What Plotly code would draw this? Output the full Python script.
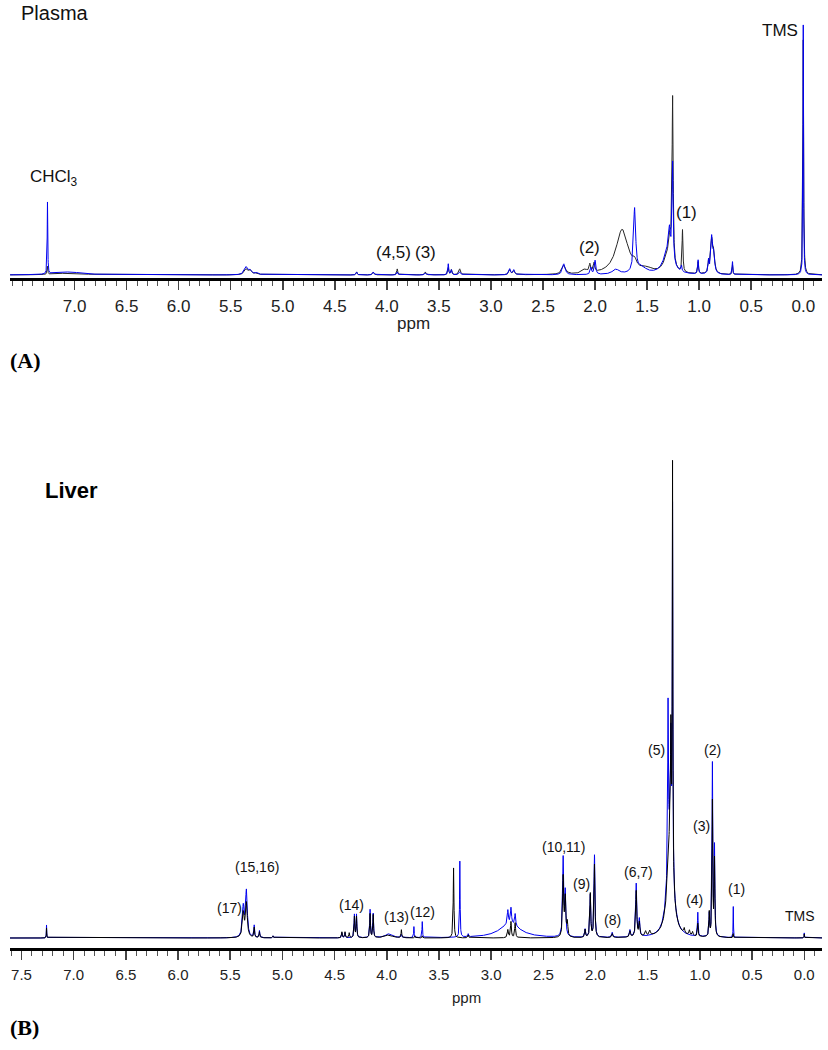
import numpy as np
import plotly.graph_objects as go

W, H = 828, 1050

# ---------------- DATA ----------------
# Peak tables: position (ppm), height (arbitrary intensity), half width (ppm)
plasma_black_ppm = [7.26, 7.05, 5.35, 5.31, 5.25, 4.29, 4.13, 3.90, 3.63, 3.41, 3.38, 3.30,
                    2.82, 2.78, 2.30, 2.10, 2.05, 2.01, 1.74, 1.62, 1.50, 1.30, 1.28, 1.255,
                    1.16, 1.01, 0.91, 0.88, 0.86, 0.68, 0.00]
plasma_black_int = [8, 2, 6, 4, 2, 3, 3, 6, 3, 7, 5, 6,
                    5, 4, 9, 4, 8, 9, 45, 6, 4, 18, 22, 165,
                    42, 12, 10, 33, 18, 10, 235]
plasma_black_wid = [0.004, 0.15, 0.02, 0.015, 0.02, 0.006, 0.008, 0.006, 0.008, 0.006, 0.006, 0.01,
                    0.01, 0.01, 0.02, 0.03, 0.008, 0.008, 0.07, 0.02, 0.06, 0.045, 0.012, 0.006,
                    0.005, 0.005, 0.005, 0.012, 0.01, 0.004, 0.004]

plasma_blue_ppm = [7.26, 7.05, 5.35, 5.31, 5.25, 4.29, 4.13, 3.90, 3.63, 3.41, 3.38, 3.30,
                   2.82, 2.78, 2.30, 2.04, 2.00, 1.80, 1.62, 1.55, 1.30, 1.285, 1.255,
                   1.17, 1.01, 0.91, 0.88, 0.86, 0.68, 0.00]
plasma_blue_int = [72, 3, 8, 4, 2, 3, 3, 3, 2, 11, 5, 3,
                   6, 5, 11, 7, 14, 5, 64, 6, 24, 24, 98,
                   6, 14, 12, 36, 18, 13, 250]
plasma_blue_wid = [0.003, 0.15, 0.02, 0.015, 0.02, 0.006, 0.008, 0.006, 0.008, 0.005, 0.006, 0.01,
                   0.01, 0.01, 0.015, 0.008, 0.008, 0.04, 0.012, 0.06, 0.05, 0.01, 0.006,
                   0.005, 0.005, 0.005, 0.01, 0.01, 0.004, 0.003]

liver_black_ppm = [7.26, 5.375, 5.345, 5.27, 5.22, 5.09, 4.43, 4.40, 4.36, 4.31, 4.29,
                   4.16, 4.13, 3.98, 3.86, 3.73, 3.66, 3.36, 3.22, 2.84, 2.81, 2.77,
                   2.31, 2.29, 2.27, 2.10, 2.05, 2.01, 1.84, 1.67, 1.61, 1.58, 1.52, 1.48,
                   1.285, 1.278, 1.262, 1.15, 1.10, 1.07, 1.02, 0.91, 0.88, 0.86, 0.68, 0.00]
liver_black_int = [10, 24, 34, 10, 6, 2, 6, 6, 5, 21, 21,
                   24, 23, 3, 8, 2, 2, 70, 3, 8, 16, 15,
                   60, 38, 14, 8, 44, 73, 4, 6, 46, 14, 5, 5,
                   105, 110, 405, 5, 5, 4, 13, 24, 135, 76, 4, 4]
liver_black_wid = [0.002, 0.01, 0.01, 0.004, 0.004, 0.004, 0.004, 0.004, 0.004, 0.004, 0.004,
                   0.004, 0.004, 0.04, 0.004, 0.003, 0.003, 0.004, 0.005, 0.006, 0.005, 0.005,
                   0.006, 0.006, 0.006, 0.005, 0.005, 0.005, 0.006, 0.006, 0.006, 0.006, 0.008, 0.008,
                   0.03, 0.004, 0.003, 0.006, 0.006, 0.006, 0.004, 0.004, 0.004, 0.004, 0.002, 0.002]

liver_blue_ppm = [7.26, 5.375, 5.345, 5.27, 5.22, 5.09, 4.43, 4.40, 4.31, 4.29,
                  4.16, 4.13, 3.98, 3.86, 3.74, 3.66, 3.30, 3.22, 2.82, 2.84, 2.81, 2.77,
                  2.31, 2.29, 2.10, 2.05, 2.01, 1.84, 1.67, 1.61, 1.58,
                  1.285, 1.305, 1.278, 1.262, 1.02, 0.91, 0.88, 0.86, 0.68, 0.00]
liver_blue_int = [13, 30, 46, 12, 7, 2, 5, 5, 23, 23,
                  28, 24, 4, 3, 11, 16, 76, 3, 14, 14, 16, 12,
                  78, 43, 8, 42, 82, 5, 7, 53, 17,
                  110, 160, 95, 360, 24, 22, 172, 88, 31, 5]
liver_blue_wid = [0.002, 0.01, 0.01, 0.004, 0.004, 0.004, 0.004, 0.004, 0.004, 0.004,
                  0.004, 0.004, 0.04, 0.004, 0.003, 0.003, 0.003, 0.005, 0.12, 0.006, 0.006, 0.006,
                  0.006, 0.006, 0.005, 0.005, 0.005, 0.006, 0.006, 0.006, 0.006,
                  0.03, 0.004, 0.004, 0.003, 0.004, 0.004, 0.004, 0.004, 0.002, 0.002]

# Tick labels / peak labels
plasma_tick_vals = [0.0, 0.5, 1.0, 1.5, 2.0, 2.5, 3.0, 3.5, 4.0, 4.5, 5.0, 5.5, 6.0, 6.5, 7.0]
liver_tick_vals = [0.0, 0.5, 1.0, 1.5, 2.0, 2.5, 3.0, 3.5, 4.0, 4.5, 5.0, 5.5, 6.0, 6.5, 7.0, 7.5]

plasma_labels = ["CHCl<sub>3</sub>", "(4,5)", "(3)", "(2)", "(1)", "TMS"]
plasma_label_ppm = [7.20, 3.94, 3.63, 2.05, 1.12, 0.22]
plasma_label_py = [178, 253, 253, 247, 212, 30]

liver_labels = ["(15,16)", "(17)", "(14)", "(13)", "(12)", "(10,11)", "(9)", "(8)",
                "(6,7)", "(5)", "(2)", "(3)", "(4)", "(1)", "TMS"]
liver_label_ppm = [5.24, 5.51, 4.34, 3.91, 3.66, 2.31, 2.13, 1.84,
                   1.59, 1.42, 0.88, 0.98, 1.05, 0.65, 0.04]
liver_label_py = [867, 908, 905, 917, 912, 847, 884, 920,
                  872, 750, 750, 826, 900, 889, 916]

# ---------------- BUILD ----------------
x = np.round(np.arange(-0.18, 7.62, 0.001), 3)


def spectrum(ppm, inten, wid):
    y = np.zeros_like(x)
    for p, h, w in zip(ppm, inten, wid):
        y += h / (1.0 + ((x - p) / w) ** 2)
    return np.round(y, 2)


def px2paper(px):
    return px / W


def py2paper(py):
    return 1 - py / H


fig = go.Figure()

BLUE = "#0000f0"
fig.add_trace(go.Scatter(x=x, y=spectrum(plasma_black_ppm, plasma_black_int, plasma_black_wid),
                         mode="lines", line=dict(color="#262626", width=1), xaxis="x", yaxis="y",
                         hoverinfo="skip"))
fig.add_trace(go.Scatter(x=x, y=spectrum(plasma_blue_ppm, plasma_blue_int, plasma_blue_wid),
                         mode="lines", line=dict(color=BLUE, width=1), xaxis="x", yaxis="y",
                         hoverinfo="skip"))
fig.add_trace(go.Scatter(x=x, y=spectrum(liver_blue_ppm, liver_blue_int, liver_blue_wid),
                         mode="lines", line=dict(color=BLUE, width=1), xaxis="x2", yaxis="y2",
                         hoverinfo="skip"))
fig.add_trace(go.Scatter(x=x, y=spectrum(liver_black_ppm, liver_black_int, liver_black_wid),
                         mode="lines", line=dict(color="#000000", width=1), xaxis="x2", yaxis="y2",
                         hoverinfo="skip"))

FONT = "Liberation Sans, Arial, sans-serif"


def xaxis_cfg(rng, anchor, fsize, tv):
    return dict(range=rng, domain=[px2paper(10), px2paper(822)], anchor=anchor,
                showline=True, linecolor="#000", linewidth=3,
                ticks="outside", ticklen=9, tickwidth=1.5, tickcolor="#444",
                tickvals=tv, tickformat=".1f",
                tickfont=dict(family=FONT, size=fsize, color="#222"),
                ticklabelstandoff=2,
                minor=dict(dtick=0.1, tick0=0, ticks="outside", ticklen=5, tickwidth=1, tickcolor="#555",
                           showgrid=False),
                showgrid=False, zeroline=False, fixedrange=True)


fig.update_layout(
    width=W, height=H, margin=dict(l=0, r=0, t=0, b=0),
    paper_bgcolor="white", plot_bgcolor="white", showlegend=False,
    xaxis=xaxis_cfg([7.62, -0.18], "y", 17, plasma_tick_vals),
    yaxis=dict(domain=[py2paper(278), py2paper(10)], range=[-3, 265], visible=False, fixedrange=True),
    xaxis2=xaxis_cfg([7.61, -0.17], "y2", 15, liver_tick_vals),
    yaxis2=dict(domain=[py2paper(948), py2paper(455)], range=[-10, 483], visible=False, fixedrange=True),
)

ann = []
for t, p, yy in zip(plasma_labels, plasma_label_ppm, plasma_label_py):
    ann.append(dict(text=t, x=p, xref="x", y=py2paper(yy), yref="paper", showarrow=False,
                    xanchor="center", yanchor="middle", font=dict(family=FONT, size=17, color="#111")))
for t, p, yy in zip(liver_labels, liver_label_ppm, liver_label_py):
    ann.append(dict(text=t, x=p, xref="x2", y=py2paper(yy), yref="paper", showarrow=False,
                    xanchor="center", yanchor="middle", font=dict(family=FONT, size=14, color="#111")))

SERIF = "Liberation Serif, Times New Roman, serif"
ann += [
    dict(text="Plasma", x=px2paper(19), y=py2paper(13), xref="paper", yref="paper", showarrow=False,
         xanchor="left", yanchor="middle", font=dict(family=FONT, size=20, color="#111")),
    dict(text="<b>Liver</b>", x=px2paper(43), y=py2paper(490), xref="paper", yref="paper", showarrow=False,
         xanchor="left", yanchor="middle", font=dict(family=FONT, size=22, color="#000")),
    dict(text="ppm", x=px2paper(413), y=py2paper(324), xref="paper", yref="paper", showarrow=False,
         xanchor="center", yanchor="middle", font=dict(family=FONT, size=17, color="#222")),
    dict(text="ppm", x=px2paper(467), y=py2paper(997), xref="paper", yref="paper", showarrow=False,
         xanchor="center", yanchor="middle", font=dict(family=FONT, size=15, color="#222")),
    dict(text="<b>(A)</b>", x=px2paper(8), y=py2paper(360), xref="paper", yref="paper", showarrow=False,
         xanchor="left", yanchor="middle", font=dict(family=SERIF, size=22, color="#000")),
    dict(text="<b>(B)</b>", x=px2paper(8), y=py2paper(1027), xref="paper", yref="paper", showarrow=False,
         xanchor="left", yanchor="middle", font=dict(family=SERIF, size=22, color="#000")),
]
fig.update_layout(annotations=ann)

# remove the default 8px page margin so the figure fills the 828x1050 window exactly
fig.write_html("out.html",
               config={"displayModeBar": False, "staticPlot": True},
               post_script="document.body.style.margin='0';document.body.style.padding='0';"
                           "document.body.style.overflow='hidden';")
